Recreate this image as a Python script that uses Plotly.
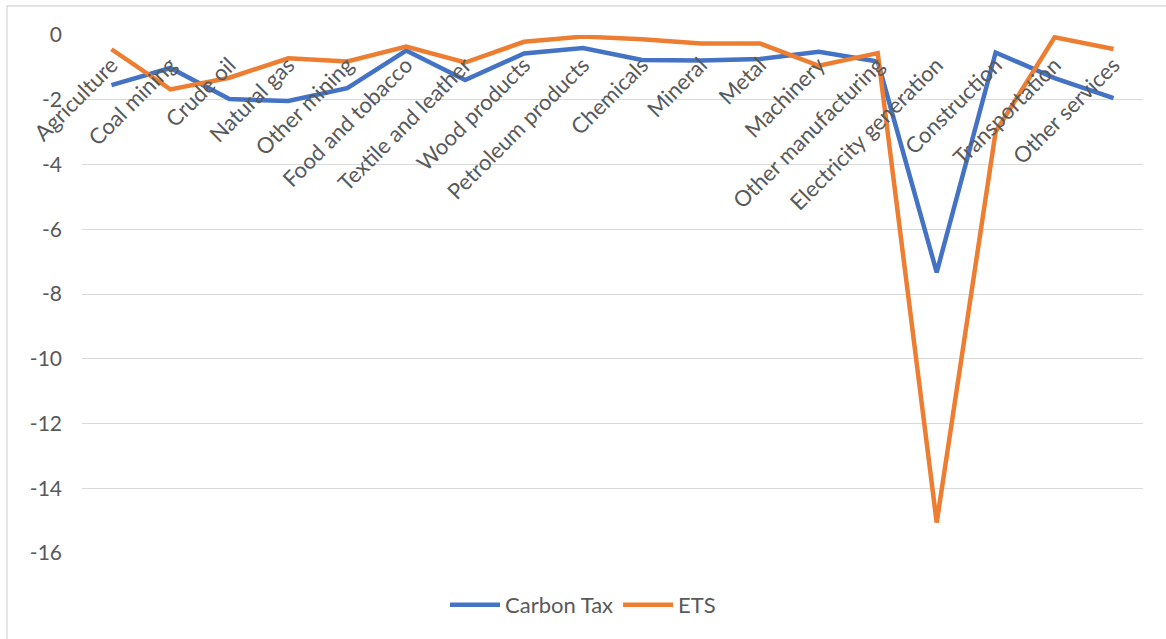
import plotly.graph_objects as go

categories = ["Agriculture", "Coal mining", "Crude oil", "Natural gas", "Other mining",
              "Food and tobacco", "Textile and leather", "Wood products", "Petroleum products",
              "Chemicals", "Mineral", "Metal", "Machinery", "Other manufacturing",
              "Electricity generation", "Construction", "Transportation", "Other services"]
carbon_tax = [-1.55, -1.02, -1.98, -2.04, -1.64, -0.48, -1.39, -0.57, -0.40,
              -0.77, -0.79, -0.74, -0.52, -0.82, -7.33, -0.54, -1.33, -1.95]
ets = [-0.44, -1.68, -1.32, -0.72, -0.82, -0.36, -0.85, -0.21, -0.05,
       -0.13, -0.26, -0.26, -0.95, -0.56, -15.06, -2.99, -0.07, -0.43]
y_ticks = [0, -2, -4, -6, -8, -10, -12, -14, -16]
y_tick_labels = ["0", "-2", "-4", "-6", "-8", "-10", "-12", "-14", "-16"]

FONT = "Lato"
GREY = "#595959"

fig = go.Figure()
fig.add_trace(go.Scatter(x=categories, y=carbon_tax, mode="lines", name="Carbon Tax",
                         line=dict(color="#4472C4", width=4.5)))
fig.add_trace(go.Scatter(x=categories, y=ets, mode="lines", name="ETS",
                         line=dict(color="#ED7D31", width=4.5)))

W, H = 1166, 639
L, R, T, B = 82, 1143, 35, 553

fig.update_layout(
    width=W, height=H,
    margin=dict(l=L, r=W - R, t=T, b=H - B),
    paper_bgcolor="white", plot_bgcolor="white",
    font=dict(family=FONT, size=19, color=GREY),
    showlegend=True,
    legend=dict(orientation="h", x=(583 - L) / (R - L), xanchor="center",
                y=(B - 605) / (B - T), yanchor="middle",
                font=dict(family=FONT, size=22, color=GREY), itemwidth=50),
    xaxis=dict(type="category", range=[-0.5, 17.5], anchor="free", position=1,
               side="bottom", tickangle=-45, showgrid=False, showline=False,
               ticks="", ticklabelstandoff=12,
               tickfont=dict(family=FONT, size=22, color=GREY)),
    yaxis=dict(range=[-16, 0], tickvals=y_ticks, ticktext=y_tick_labels,
               showgrid=True, gridcolor="#D9D9D9",
               gridwidth=1.3, zeroline=False, showline=False, ticks="",
               ticklabelstandoff=19,
               tickfont=dict(family=FONT, size=21, color=GREY)),
    shapes=[dict(type="rect", xref="paper", yref="paper",
                 x0=(7 - L) / (R - L), x1=(1175 - L) / (R - L),
                 y0=(B - 650) / (B - T), y1=(B - 6) / (B - T),
                 line=dict(color="#D9D9D9", width=1.3), layer="below")],
)

fig.write_html("out.html")
